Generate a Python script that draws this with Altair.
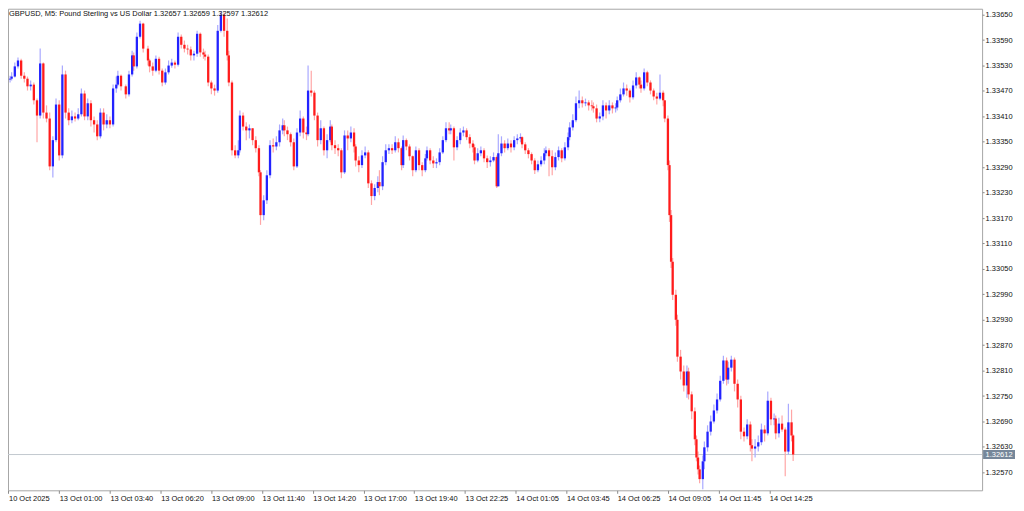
import altair as alt
import pandas as pd

# ---------------- data ----------------
symbol_title = "GBPUSD, M5:  Pound Sterling vs US Dollar"

# M5 bar number of each candle (0 = first bar on the chart)
bars = [1,2,4,6,8,10,12,14,16,18,
        20,22,24,26,28,30,32,34,36,38,
        40,42,44,46,48,50,52,54,56,58,
        60,62,64,66,68,69,71,74,76,78,
        79,81,83,85,88,89,91,93,95,97,
        99,101,103,105,107,109,111,113,115,117,
        119,121,123,124,126,128,130,132,134,136,
        138,139,141,143,145,146,148,150,152,154,
        156,158,159,161,163,165,167,169,171,173,
        174,176,178,180,182,184,186,188,189,191,
        193,195,197,199,201,203,204,206,208,210,
        212,214,216,218,219,221,223,225,227,229,
        231,233,234,236,238,240,242,244,246,248,
        249,251,253,255,257,259,261,263,264,266,
        268,270,272,274,276,278,279,281,283,285,
        287,289,291,293,294,296,298,300,302,304,
        306,308,309,311,313,315,317,319,321,323,
        324,326,328,330,332,334,336,338,339,341,
        343,345,347,349,351,353,354,356,358,360,
        362,364,366,368,369,371,373,375,377,379,
        381,383,384,386,388,390,392,394,396,398,
        399,401,403,405,407,409,411,413,414,416,
        417,418,419,421,422,424,426,428,429,431,
        433,434,435,436,438,439,441,443,445,447,
        449,451,453,454,456,458,460,462,464,466,
        468,469,471,473,475,477,479,481,483,484,
        486,488,490,492,494,495]

# prices in points: price = 1 + value / 100000
first_open = 33497
close_pts = [33499,33504,33528,33542,33506,33499,33481,33485,33448,33412,
             33535,33419,33405,33292,33354,33438,33318,33509,33419,33401,
             33410,33405,33415,33464,33410,33441,33401,33391,33363,33419,
             33391,33401,33391,33476,33485,33506,33481,33462,33509,33554,
             33528,33598,33629,33570,33542,33528,33518,33546,33518,33490,
             33514,33530,33537,33532,33598,33579,33570,33568,33554,33558,
             33605,33561,33556,33551,33490,33476,33471,33612,33650,33612,
             33554,33490,33330,33318,33330,33412,33386,33377,33382,33354,
             33335,33278,33177,33212,33271,33342,33339,33349,33377,33389,
             33377,33368,33349,33292,33372,33405,33372,33368,33471,33466,
             33412,33354,33382,33330,33354,33386,33342,33335,33330,33278,
             33365,33358,33372,33339,33306,33295,33318,33325,33252,33222,
             33241,33255,33245,33302,33330,33335,33330,33349,33335,33295,
             33354,33339,33316,33283,33330,33295,33283,33311,33330,33306,
             33299,33302,33325,33354,33382,33377,33382,33337,33354,33372,
             33377,33361,33346,33337,33306,33323,33330,33311,33302,33306,
             33314,33245,33323,33346,33335,33346,33337,33354,33358,33361,
             33344,33330,33321,33306,33283,33297,33306,33323,33330,33316,
             33290,33314,33330,33311,33337,33361,33384,33401,33441,33448,
             33441,33443,33436,33434,33429,33405,33410,33436,33424,33436,
             33429,33431,33448,33462,33476,33471,33455,33483,33502,33485,
             33476,33514,33490,33471,33457,33452,33466,33448,33405,33295,
             33177,33067,32989,32930,32843,32808,32775,32808,32754,32714,
             32648,32605,32577,32554,32596,32629,32666,32690,32716,32742,
             32786,32834,32789,32817,32836,32779,32742,32666,32655,32683,
             32634,32626,32631,32641,32671,32662,32739,32695,32697,32662,
             32685,32671,32619,32688,32657,32612]

high_pts = [33506,33514,33537,33549,33546,33514,33504,33495,33490,33452,
            33570,33537,33436,33419,33363,33452,33448,33530,33518,33429,
            33424,33419,33429,33476,33471,33452,33448,33410,33401,33429,
            33429,33415,33410,33485,33504,33518,33509,33485,33518,33565,
            33561,33608,33636,33631,33577,33546,33537,33554,33551,33523,
            33523,33542,33546,33542,33608,33603,33589,33579,33575,33565,
            33612,33608,33570,33565,33556,33495,33485,33626,33659,33655,
            33641,33565,33495,33342,33354,33424,33419,33396,33391,33382,
            33363,33342,33283,33224,33283,33354,33358,33363,33391,33405,
            33401,33386,33372,33358,33382,33424,33410,33386,33530,33518,
            33471,33419,33401,33386,33368,33401,33391,33354,33344,33335,
            33377,33377,33386,33382,33344,33316,33330,33339,33330,33259,
            33250,33269,33283,33316,33344,33344,33344,33363,33358,33339,
            33365,33358,33344,33318,33339,33335,33302,33321,33339,33335,
            33316,33311,33335,33363,33396,33396,33391,33386,33363,33382,
            33386,33382,33368,33354,33344,33335,33339,33335,33318,33316,
            33325,33318,33368,33363,33354,33358,33354,33363,33368,33370,
            33363,33349,33335,33325,33311,33306,33316,33335,33339,33335,
            33330,33325,33339,33335,33349,33372,33396,33415,33457,33471,
            33457,33452,33448,33448,33443,33438,33419,33448,33443,33448,
            33443,33441,33457,33476,33490,33485,33476,33495,33514,33504,
            33495,33523,33518,33495,33476,33466,33509,33471,33448,33412,
            33306,33189,33076,33001,32942,32859,32822,32822,32817,32761,
            32723,32657,32619,32586,32610,32643,32681,32704,32730,32756,
            32798,32845,32841,32831,32845,32841,32789,32751,32676,32695,
            32690,32648,32648,32657,32685,32681,32761,32746,32709,32704,
            32699,32704,32676,32732,32718,32659]

low_pts = [33490,33495,33502,33523,33499,33490,33471,33471,33438,33349,
           33405,33405,33396,33283,33266,33349,33306,33311,33405,33389,
           33394,33398,33401,33410,33401,33401,33386,33372,33354,33358,
           33377,33382,33382,33386,33466,33481,33471,33452,33457,33504,
           33518,33523,33594,33561,33530,33514,33506,33514,33509,33481,
           33485,33509,33525,33523,33528,33570,33561,33556,33542,33542,
           33551,33551,33546,33542,33481,33462,33459,33466,33608,33598,
           33542,33481,33318,33311,33311,33325,33377,33354,33358,33342,
           33325,33269,33154,33165,33203,33264,33325,33330,33339,33368,
           33363,33354,33339,33283,33288,33363,33358,33354,33363,33457,
           33401,33339,33344,33318,33311,33349,33330,33321,33316,33264,
           33274,33330,33349,33325,33292,33278,33288,33311,33241,33201,
           33212,33231,33224,33236,33295,33321,33321,33325,33325,33283,
           33288,33330,33306,33269,33278,33283,33269,33278,33306,33297,
           33288,33288,33295,33321,33349,33368,33368,33306,33330,33344,
           33363,33354,33335,33325,33297,33302,33316,33302,33288,33292,
           33302,33241,33245,33316,33325,33330,33325,33330,33344,33349,
           33335,33321,33311,33297,33274,33278,33292,33297,33316,33269,
           33271,33283,33306,33302,33306,33330,33354,33377,33396,33429,
           33431,33434,33424,33424,33419,33396,33396,33401,33405,33415,
           33417,33419,33424,33443,33457,33459,33443,33450,33476,33476,
           33466,33471,33481,33462,33448,33438,33448,33434,33396,33283,
           33161,33052,32977,32916,32831,32789,32761,32746,32742,32695,
           32634,32596,32565,32544,32530,32577,32619,32657,32685,32709,
           32737,32779,32775,32779,32808,32761,32723,32648,32643,32648,
           32619,32596,32605,32619,32634,32643,32657,32681,32681,32648,
           32652,32666,32561,32612,32643,32597]

# time axis: a label every 32 M5 bars
tick_bars = [0,32,64,96,128,160,192,224,256,288,320,352,384,416,448,480]
time_labels = ["10 Oct 2025","13 Oct 01:00","13 Oct 03:40","13 Oct 06:20",
               "13 Oct 09:00","13 Oct 11:40","13 Oct 14:20","13 Oct 17:00",
               "13 Oct 19:40","13 Oct 22:25","14 Oct 01:05","14 Oct 03:45",
               "14 Oct 06:25","14 Oct 09:05","14 Oct 11:45","14 Oct 14:25"]

price_ticks = [1.32570,1.32630,1.32690,1.32750,1.32810,1.32870,1.32930,
               1.32990,1.33050,1.33110,1.33170,1.33230,1.33290,1.33350,
               1.33410,1.33470,1.33530,1.33590,1.33650]

# ---------------- build table ----------------
open_pts = [first_open] + close_pts[:-1]
to_price = lambda v: 1 + v / 100000.0
df = pd.DataFrame({
    "bar": bars,
    "o": [to_price(v) for v in open_pts],
    "h": [to_price(v) for v in high_pts],
    "l": [to_price(v) for v in low_pts],
    "c": [to_price(v) for v in close_pts],
})
last = df.iloc[[-1]].reset_index(drop=True)
title_text = "%s  %.5f %.5f %.5f %.5f" % (symbol_title, last.o[0], last.h[0], last.l[0], last.c[0])
title_df = pd.DataFrame({"t": [title_text]})

# ---------------- styling ----------------
W, H = 977, 483
FONT = "Liberation Sans"
FS = 7.5
BLUE, RED = "#2323ff", "#ff1c1c"
BLUE_W, RED_W = "#a9a9ff", "#ffa6a6"

xscale = alt.Scale(domain=[-0.3, 614.2], nice=False, zero=False)
yscale = alt.Scale(domain=[1.325276, 1.336641], nice=False, zero=False)

labels_js = "[" + ",".join("'%s'" % s for s in time_labels) + "]"
ticks_js = "[" + ",".join(str(t) for t in tick_bars) + "]"
xaxis = alt.Axis(values=tick_bars, labelExpr=labels_js + "[indexof(" + ticks_js + ", datum.value)]",
                 grid=False, domain=False, ticks=True, tickSize=3, tickColor="#8a8a8a",
                 labelAlign="left", labelBaseline="top", labelPadding=1, labelOverlap=False,
                 labelFlush=False, labelBound=False, labelFont=FONT, labelFontSize=FS,
                 labelColor="#111111", title=None)
yaxis = alt.Axis(orient="right", values=price_ticks, format=".5f", grid=False, domain=False,
                 ticks=True, tickSize=2, tickColor="#8a8a8a", labelPadding=1, labelOverlap=False,
                 labelFont=FONT, labelFontSize=FS, labelColor="#111111", labelBound=False,
                 labelFlush=False, title=None)

def X(field="bar"):
    return alt.X(field + ":Q", scale=xscale, axis=xaxis, title=None)

def Y(field):
    return alt.Y(field + ":Q", scale=yscale, axis=yaxis, title=None)

up = "datum.c >= datum.o"
base = alt.Chart(df)

wicks = base.mark_rule(strokeWidth=1.2).encode(
    x=X(), y=Y("l"), y2="h:Q",
    color=alt.condition(up, alt.value(BLUE_W), alt.value(RED_W)))

bodies = base.mark_rule(strokeWidth=2.3).encode(
    x=X(), y=Y("o"), y2="c:Q",
    color=alt.condition(up, alt.value(BLUE), alt.value(RED)))

price_line = alt.Chart(last).mark_rule(color="#c3c9cf", strokeWidth=1).encode(y=Y("c"))

price_box = alt.Chart(last).mark_rect(color="#76879a", yOffset=-4.5, y2Offset=4.5).encode(
    x=alt.value(W + 1), x2=alt.value(W + 33), y=Y("c"), y2="c:Q")

price_txt = alt.Chart(last).mark_text(color="white", font=FONT, fontSize=FS, align="center",
                                      baseline="middle").encode(
    x=alt.value(W + 17), y=Y("c"), text=alt.Text("c:Q", format=".5f"))

title_mark = alt.Chart(title_df).mark_text(align="left", baseline="middle", font=FONT,
                                           fontSize=FS, color="#111111").encode(
    x=alt.value(1), y=alt.value(5), text="t:N")

chart = alt.layer(price_line, wicks, bodies, price_box, price_txt, title_mark).properties(
    width=W, height=H,
    autosize=alt.AutoSizeParams(type="none"),
    padding={"left": 0, "top": 0, "right": 34, "bottom": 12},
    background="white",
).configure_view(stroke="#a6a6a6", strokeWidth=1)

chart.save("out.html", embed_options={"renderer": "svg", "actions": False})
